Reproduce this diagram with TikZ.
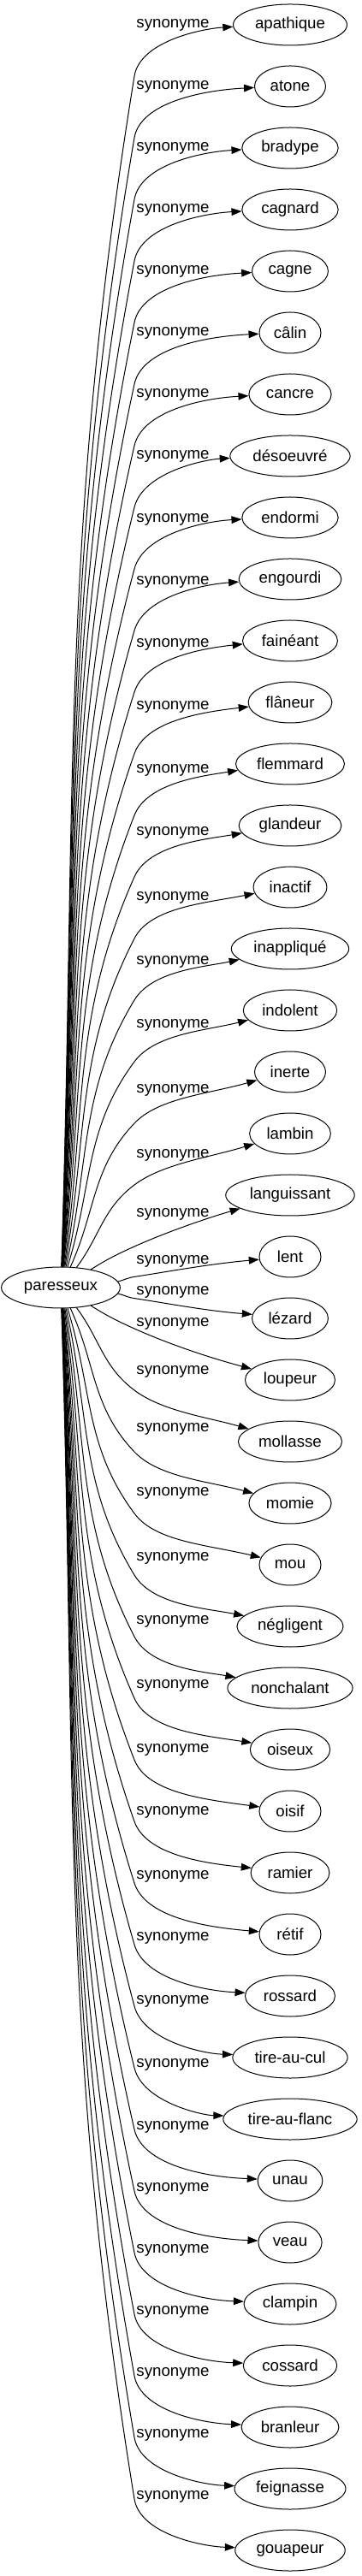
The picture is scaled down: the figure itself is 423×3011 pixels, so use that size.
\documentclass[tikz,border=0pt]{standalone}
\usepackage{fontspec}
\setmainfont{Liberation Sans}
\usetikzlibrary{shapes.geometric,arrows.meta}

\begin{document}
\begin{tikzpicture}[
    x=0.75pt, y=0.75pt,
    word/.style={draw, ellipse, line width=0.75pt, minimum width=54pt, minimum height=36pt, inner xsep=4.5pt, inner ysep=2pt, font=\fontsize{14}{16}\selectfont},
    rel/.style={inner sep=0pt, font=\fontsize{14}{16}\selectfont},
    arrow/.style={-{Triangle[length=9pt,width=6.5pt]}, line width=0.75pt}
]
    \useasboundingbox (-71,-1506) rectangle (352,1505);
    \node[word] (par) at (0,0) {paresseux};

    % one synonym per row, label shifted by the given offset
    \foreach \w/\off [count=\i from 0] in {apathique/0, atone/0, bradype/0, cagnard/0, cagne/0, câlin/0, cancre/0, désoeuvré/0, endormi/2, engourdi/3, fainéant/4, flâneur/5, flemmard/7, glandeur/8, inactif/12, inappliqué/15, indolent/17, inerte/21, lambin/25, languissant/22, lent/5, lézard/-31, loupeur/-66, mollasse/-82, momie/-87, mou/-84, négligent/-80, nonchalant/-78, oiseux/-75, oisif/-72, ramier/-71, rétif/-68, rossard/-68, tire-au-cul/-66, tire-au-flanc/-64, unau/-63, veau/-63, clampin/-63, cossard/-63, branleur/-63, feignasse/-63, gouapeur/-63} {
        \pgfmathsetmacro\yy{1476-72*\i}
        \pgfmathsetmacro\ab{abs(\yy)}
        \pgfmathsetmacro\sg{\yy/\ab}
        \pgfmathsetmacro\vy{\yy-\sg*min(60,0.65*\ab)}
        \pgfmathsetmacro\outa{\sg*atan((\ab/150)^1.5)}
        \pgfmathsetmacro\tang{\sg*atan(\ab/240)}
        \pgfmathsetmacro\ina{180+\sg*max(2.5,min(\ab/7,20-\ab/50))}
        % start point on paresseux and first handle
        \pgfmathsetmacro\rr{1/sqrt((cos(\outa)/66)^2+(sin(\outa)/24)^2)}
        \pgfmathsetmacro\sx{\rr*cos(\outa)}
        \pgfmathsetmacro\sy{\rr*sin(\outa)}
        \pgfmathsetmacro\da{39*veclen((86-\sx)/100,(\vy-\sy)/100)}
        % end point on the synonym and second handle
        \pgfmathsetmacro\ex{268+60*cos(\ina)}
        \pgfmathsetmacro\ey{\yy+60*sin(\ina)}
        \pgfmathsetmacro\db{31*veclen((\ex-86)/100,(\ey-\vy)/100)}
        \node[word] (n\i) at (268,\yy) {\w};
        \node[rel] (l\i) at (131,\yy-\off) {synonyme};
        \draw[arrow] (par.\outa)
            .. controls ({\sx+\da*cos(\outa)},{\sy+\da*sin(\outa)}) and ({86-\da*cos(\tang)},{\vy-\da*sin(\tang)}) .. (86,\vy)
            .. controls ({86+\db*cos(\tang)},{\vy+\db*sin(\tang)}) and ({\ex+\db*cos(\ina)},{\ey+\db*sin(\ina)}) .. (n\i.\ina);
    }
\end{tikzpicture}
\end{document}
